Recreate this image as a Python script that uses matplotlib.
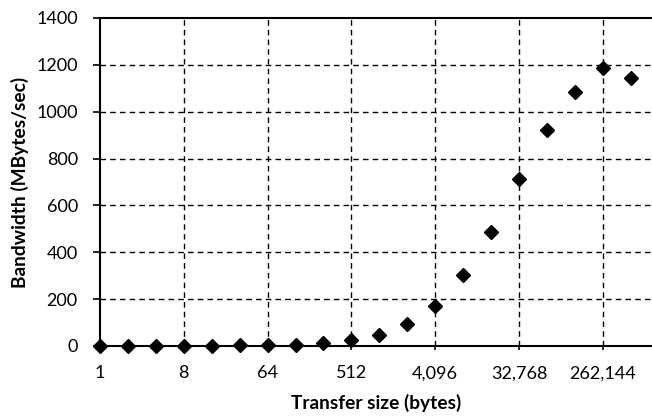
import numpy as np
import matplotlib
matplotlib.use("Agg")
import matplotlib.pyplot as plt

plt.rcParams['font.family'] = ['Lato', 'DejaVu Sans']

# transfer sizes 2^0 .. 2^19 bytes, bandwidth in MBytes/sec
sizes = [2 ** i for i in range(20)]
bandwidth = [0.2, 0.4, 0.8, 1.5, 2, 3, 4, 6, 14, 25,
             47, 92, 171, 302, 487, 711, 922, 1084, 1188, 1145]
tick_sizes = [1, 8, 64, 512, 4096, 32768, 262144]

pos = np.arange(len(sizes))
tick_pos = [sizes.index(s) for s in tick_sizes]
tick_labels = [f"{s:,}" for s in tick_sizes]

fig = plt.figure(figsize=(6.52, 4.17), dpi=100)
ax = fig.add_axes([100 / 652, 1 - 346 / 417, 552 / 652, 328 / 417])

ax.plot(pos, bandwidth, linestyle='none', marker='D', markersize=6.8,
        color='black', clip_on=False, zorder=5)

ax.set_xlim(0, 19.76)
ax.set_ylim(0, 1400)
ax.set_yticks(range(0, 1401, 200))
ax.set_xticks(tick_pos)
ax.set_xticklabels(tick_labels)

# dashed grid, skip the lines on the axes themselves
for y in range(200, 1400, 200):
    ax.axhline(y, color='black', linestyle=(0, (4, 3)), linewidth=1, zorder=1)
for x in tick_pos[1:]:
    ax.axvline(x, color='black', linestyle=(0, (4, 3)), linewidth=1, zorder=1)

for side in ['left', 'bottom', 'top']:
    ax.spines[side].set_linewidth(1.5)
ax.spines['right'].set_visible(False)

ax.tick_params(axis='y', direction='out', length=5, width=1.2, pad=11, labelsize=13)
ax.tick_params(axis='x', direction='out', length=3, width=1.2, pad=11, labelsize=13)

ax.set_ylabel('Bandwidth (MBytes/sec)', fontsize=13.8, fontweight='bold', labelpad=5)
ax.set_xlabel('Transfer size (bytes)', fontsize=13.8, fontweight='bold', labelpad=9)

fig.savefig('out.png', dpi=100)
